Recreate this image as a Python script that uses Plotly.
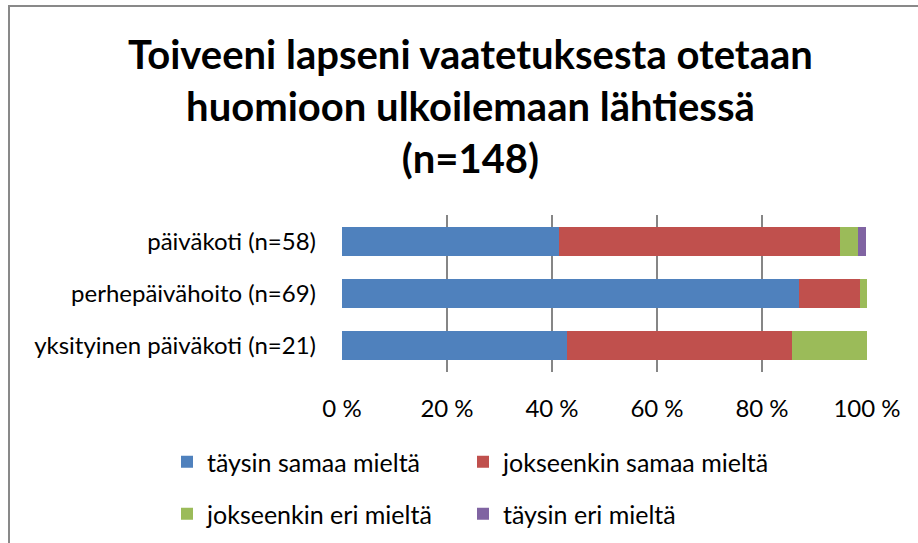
import plotly.graph_objects as go

categories = ["päiväkoti (n=58)", "perhepäivähoito (n=69)", "yksityinen päiväkoti (n=21)"]
series_names = ["täysin samaa mieltä", "jokseenkin samaa mieltä", "jokseenkin eri mieltä", "täysin eri mieltä"]
taysin_samaa = [41.4, 87.0, 42.9]
jokseenkin_samaa = [53.4, 11.6, 42.9]
jokseenkin_eri = [3.4, 1.4, 14.3]
taysin_eri = [1.7, 0.0, 0.0]
tick_vals = [0, 20, 40, 60, 80, 100]
tick_text = ["0 %", "20 %", "40 %", "60 %", "80 %", "100 %"]
colors = ["#4F81BD", "#C0504D", "#9BBB59", "#8064A2"]
title_text = "Toiveeni lapseni vaatetuksesta otetaan<br>huomioon ulkoilemaan lähtiessä<br>(n=148)"

FONT = "Lato, Calibri, Carlito, sans-serif"
W, H = 918, 543
L, R, T, B = 342, 51, 215, 171
PW, PH = W - L - R, H - T - B


def px_x(p):
    return (p - L) / PW


def px_y(p):
    return (H - B - p) / PH


fig = go.Figure()
values = [taysin_samaa, jokseenkin_samaa, jokseenkin_eri, taysin_eri]
legend_ids = ["legend", "legend2", "legend3", "legend4"]
for name, vals, col, lg in zip(series_names, values, colors, legend_ids):
    fig.add_trace(go.Bar(
        y=categories, x=vals, name=name, orientation="h",
        marker=dict(color=col, line=dict(width=0)),
        legend=lg, showlegend=True, hoverinfo="x+name",
    ))


def legend_at(xp, yp):
    return dict(
        orientation="h", xref="container", yref="container",
        x=xp / W, xanchor="left", y=1 - yp / H, yanchor="middle",
        font=dict(family=FONT, size=25, color="#000000"),
        bgcolor="rgba(0,0,0,0)", visible=True,
    )


fig.update_layout(
    width=W, height=H, showlegend=True,
    barmode="stack", bargap=0.45,
    margin=dict(l=L, r=R, t=T, b=B, autoexpand=False),
    paper_bgcolor="white", plot_bgcolor="white",
    font=dict(family=FONT, size=24, color="#000000"),
    legend=legend_at(167, 462),
    legend2=legend_at(463, 462),
    legend3=legend_at(167, 514),
    legend4=legend_at(463, 514),
    xaxis=dict(
        range=[0, 100], tickvals=tick_vals, ticktext=tick_text,
        showgrid=True, gridcolor="#868686", gridwidth=1.5,
        zeroline=False, showline=False, ticks="",
        ticklabelstandoff=20,
        tickfont=dict(family=FONT, size=24, color="#000000"),
        fixedrange=True,
    ),
    yaxis=dict(
        autorange="reversed", showgrid=False, zeroline=False, showline=False,
        ticks="", ticklabelstandoff=25,
        tickfont=dict(family=FONT, size=24, color="#000000"),
        fixedrange=True,
    ),
    annotations=[dict(
        text=title_text, xref="paper", yref="paper",
        x=px_x(470), y=px_y(106), xanchor="center", yanchor="middle",
        align="center", showarrow=False,
        font=dict(family=FONT, size=40, color="#000000", weight="bold"),
    )],
    shapes=[dict(
        type="rect", xref="paper", yref="paper",
        x0=px_x(9), x1=px_x(940), y0=px_y(560), y1=px_y(6),
        line=dict(color="#898989", width=2), fillcolor="rgba(0,0,0,0)",
        layer="below",
    )],
)

fig.write_html("out.html", config={"displayModeBar": False},
               post_script="document.body.style.margin='0';")
